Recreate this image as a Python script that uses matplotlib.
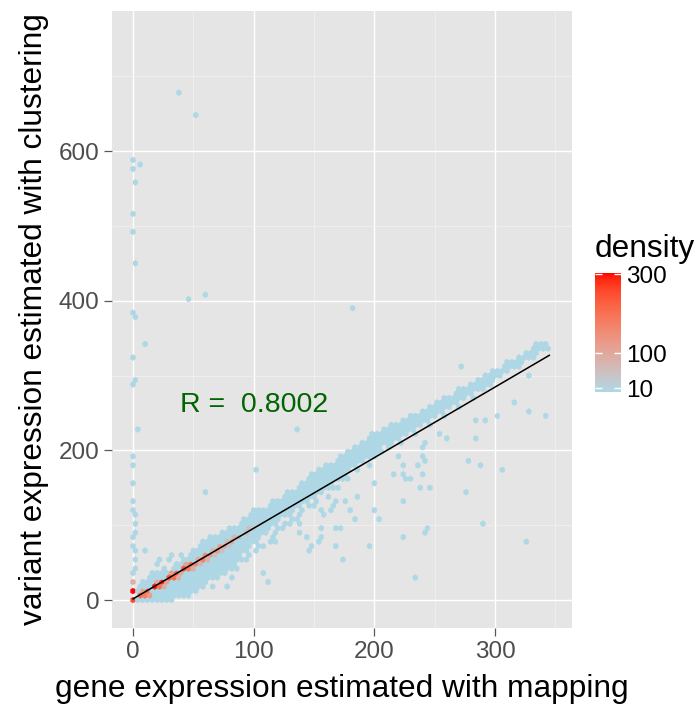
import numpy as np
import matplotlib
matplotlib.use("Agg")
import matplotlib.pyplot as plt
from matplotlib.colors import ListedColormap, Normalize

plt.rcParams['font.family'] = ['Liberation Sans', 'DejaVu Sans']

# vertical column of hexes at x ~ 0
col0_y = [0, 12, 24, 36, 42, 54, 66, 72, 84, 90, 102, 114, 120, 132, 156, 180, 192,
          288, 294, 324, 378, 384, 450, 492, 516, 558, 576, 588]

# main band: one entry per hex column (x) with the y cells it covers
band_x = list(range(4, 345, 4))
band_y = [
    [0, 6, 12, 18],
    [0, 6, 12, 18, 24],
    [0, 6, 12, 18, 24, 30],
    [0, 6, 12, 18, 24, 30, 36],
    [0, 6, 12, 18, 24, 30, 36, 48],
    [0, 6, 12, 18, 24, 30, 36, 42],
    [0, 6, 12, 18, 24, 30, 36, 54],
    [0, 6, 12, 18, 24, 30, 36, 42, 60],
    [6, 12, 18, 24, 30, 36, 42, 48],
    [6, 12, 18, 24, 30, 36, 42, 48, 54, 60],
    [6, 12, 18, 24, 30, 36, 42, 48, 54],
    [12, 18, 24, 30, 36, 42, 48, 54, 60, 66],
    [12, 18, 24, 30, 36, 42, 48, 54, 60, 66],
    [18, 24, 30, 36, 42, 48, 54, 60, 66, 72, 78],
    [24, 30, 36, 42, 48, 54, 60, 66, 72, 78],
    [18, 30, 36, 42, 48, 54, 60, 66, 72, 78, 84],
    [30, 36, 42, 48, 54, 60, 66, 72, 78, 84],
    [36, 42, 48, 54, 60, 66, 72, 78, 84, 90],
    [36, 42, 48, 54, 60, 66, 72, 78, 84, 90],
    [30, 42, 48, 54, 60, 66, 72, 78, 84, 90, 96],
    [42, 48, 54, 60, 66, 72, 78, 84, 90, 96],
    [54, 60, 66, 72, 78, 84, 90, 96, 102],
    [54, 66, 72, 78, 84, 90, 96, 102, 108],
    [60, 72, 78, 84, 90, 96, 102, 108, 114],
    [66, 78, 84, 90, 96, 102, 108, 114, 120],
    [72, 84, 90, 96, 102, 108, 114, 120],
    [72, 90, 96, 102, 108, 114, 120],
    [78, 96, 102, 108, 114, 120, 126],
    [84, 90, 102, 108, 114, 120, 126, 132],
    [96, 108, 114, 120, 126, 132],
    [96, 102, 114, 120, 126, 132, 138],
    [102, 114, 120, 126, 132, 138, 144],
    [108, 120, 126, 132, 138, 144],
    [108, 114, 126, 132, 138, 144, 150],
    [120, 132, 138, 144, 150, 156],
    [126, 132, 138, 144, 150, 156, 162],
    [126, 138, 144, 150, 156, 162, 168],
    [132, 144, 150, 156, 162, 168, 174],
    [144, 150, 156, 162, 168, 174],
    [138, 150, 156, 162, 168, 174, 180],
    [150, 156, 162, 168, 174, 180],
    [150, 162, 168, 174, 180, 186],
    [162, 168, 174, 180, 186, 192],
    [168, 174, 180, 186, 192],
    [162, 174, 180, 186, 192, 198],
    [180, 186, 192, 198, 204],
    [174, 186, 192, 198, 204],
    [186, 192, 198, 204, 210],
    [180, 192, 198, 204, 210, 216],
    [192, 198, 204, 210, 216, 222],
    [198, 204, 210, 216, 222],
    [198, 210, 216, 222, 228],
    [204, 210, 216, 222, 228],
    [210, 216, 222, 228, 234],
    [216, 222, 228, 234],
    [210, 222, 228, 234, 240],
    [222, 228, 234, 240],
    [228, 234, 240, 246],
    [222, 234, 240, 246],
    [234, 240, 246, 252],
    [240, 246, 252],
    [234, 246, 252, 258],
    [246, 252, 258, 264],
    [252, 258, 264],
    [246, 258, 264, 270],
    [258, 264, 270],
    [264, 270, 276],
    [258, 270, 276, 282],
    [270, 276, 282],
    [276, 282, 288],
    [270, 282, 288],
    [282, 288, 294],
    [282, 288, 294, 300],
    [288, 294, 300],
    [294, 300, 306],
    [300, 306],
    [306, 312],
    [306, 312, 318],
    [312, 318],
    [312, 318, 324],
    [318, 324],
    [324, 330],
    [324, 330, 336],
    [330, 336, 342],
    [336, 342],
    [336, 342],
]

# isolated hexes away from the band
scatter_x = [37, 51, 45, 60, 182, 136, 102, 58, 5, 8, 273, 328, 316, 327, 344, 301, 285,
             292, 285, 256, 261, 241, 243, 221, 225, 235, 241, 243, 218, 225, 227, 230,
             242, 237, 247, 278, 287, 307, 276, 290, 328, 225, 242, 244, 226, 235, 195,
             206, 200, 200, 185, 188, 177, 180, 168, 174, 168, 173, 157, 157, 152, 147,
             145, 143, 138, 138, 122, 164, 157, 169, 155, 163, 78, 108, 111, 117, 123,
             21, 32, 8, 4]
scatter_y = [675, 649, 403, 409, 390, 227, 175, 143, 227, 64, 312, 298, 266, 253, 246, 246, 240,
             240, 215, 220, 215, 203, 209, 195, 182, 182, 189, 189, 169, 169, 163, 163,
             169, 150, 150, 188, 182, 175, 143, 104, 78, 130, 91, 98, 85, 27, 72,
             110, 117, 156, 111, 136, 130, 117, 98, 98, 72, 52, 98, 85, 78, 71,
             66, 85, 91, 105, 98, 124, 117, 130, 122, 122, 20, 39, 27, 78, 98,
             53, 60, 342, 582]

# high-count cells near the origin and along the diagonal
dense_x = [0, 0, 4, 8, 12, 16, 20, 24, 28, 32, 36, 40, 44, 48, 52, 56, 60, 64, 68, 72,
           76, 80, 84, 88, 92, 96, 100, 104, 8, 12, 20, 24, 28, 32, 36, 40, 44, 48, 52,
           56, 60, 64, 68, 72, 76, 80, 0]
dense_y = [0, 12, 6, 6, 12, 18, 18, 24, 30, 30, 36, 42, 42, 48, 48, 54, 60, 60, 66, 72,
           72, 78, 84, 84, 90, 96, 96, 102, 12, 6, 24, 18, 24, 36, 30, 36, 48, 42, 54,
           48, 54, 66, 60, 66, 78, 72, 24]
dense_n = [250, 300, 200, 180, 200, 290, 200, 280, 230, 200, 220, 230, 180, 200, 160, 170,
           150, 130, 120, 110, 100, 90, 80, 70, 60, 50, 40, 30, 110, 120, 100, 90, 110, 120,
           90, 100, 110, 90, 100, 70, 80, 70, 60, 60, 50, 40, 80]

# fitted regression line
line_x = [0, 345]
line_y = [1.5, 327]

r_label = "R =  0.8002"


def lab_ramp(c1, c2, n=256):
    # interpolate two colours in CIE Lab, like ggplot's gradient scale
    M = np.array([[0.4124, 0.3576, 0.1805], [0.2126, 0.7152, 0.0722], [0.0193, 0.1192, 0.9505]])
    white = np.array([0.95047, 1.0, 1.08883])

    def to_lab(rgb):
        c = np.asarray(rgb, float) / 255
        lin = np.where(c <= 0.04045, c / 12.92, ((c + 0.055) / 1.055) ** 2.4)
        xyz = M @ lin / white
        f = np.where(xyz > 0.008856, np.cbrt(xyz), 7.787 * xyz + 16 / 116)
        return np.array([116 * f[1] - 16, 500 * (f[0] - f[1]), 200 * (f[1] - f[2])])

    def to_rgb(lab):
        fy = (lab[0] + 16) / 116
        f = np.array([fy + lab[1] / 500, fy, fy - lab[2] / 200])
        xyz = np.where(f ** 3 > 0.008856, f ** 3, (f - 16 / 116) / 7.787) * white
        lin = np.linalg.solve(M, xyz)
        c = np.where(lin <= 0.0031308, 12.92 * lin, 1.055 * np.abs(lin) ** (1 / 2.4) - 0.055)
        return np.clip(c, 0, 1)

    a, b = to_lab(c1), to_lab(c2)
    return ListedColormap([to_rgb(a + t * (b - a)) for t in np.linspace(0, 1, n)])


cmap = lab_ramp((173, 216, 230), (255, 0, 0))

# assemble the points for hexbin
xs, ys, cs = [], [], []
for y in col0_y:
    xs.append(0); ys.append(y); cs.append(3)
for x, col in zip(band_x, band_y):
    for y in col:
        xs.append(x); ys.append(y); cs.append(3)
for x, y in zip(scatter_x, scatter_y):
    xs.append(x); ys.append(y); cs.append(1)
for x, y, n in zip(dense_x, dense_y, dense_n):
    xs.append(x); ys.append(y); cs.append(n)

fig = plt.figure(figsize=(6.96, 7.04), dpi=100)
ax = fig.add_axes([112 / 696, 1 - 628 / 704, 460 / 696, 617 / 704])
ax.set_facecolor('#E5E5E5')

hb = ax.hexbin(xs, ys, C=cs, reduce_C_function=np.sum, gridsize=(86, 58),
               extent=(0, 344, 0, 696), mincnt=1, cmap=cmap,
               norm=Normalize(vmin=1, vmax=302), linewidths=0.3, edgecolors='face', zorder=2)

ax.plot(line_x, line_y, color='black', lw=1.1, zorder=3)
ax.text(100, 260, r_label, color='#006400', fontsize=20.5, ha='center', va='center', zorder=4)

ax.set_xlim(-17.4, 363.8)
ax.set_ylim(-37.4, 787.1)
ax.set_xticks([0, 100, 200, 300])
ax.set_yticks([0, 200, 400, 600])
ax.set_xticks([50, 150, 250, 350], minor=True)
ax.set_yticks([100, 300, 500, 700], minor=True)
ax.grid(which='major', color='white', lw=1.0, zorder=0)
ax.grid(which='minor', color='#F2F2F2', lw=0.5, zorder=0)
ax.set_axisbelow(True)
for s in ax.spines.values():
    s.set_visible(False)
ax.tick_params(which='major', length=6, width=0.9, color='#595959', labelsize=17.5,
               labelcolor='#4D4D4D', pad=3)
ax.tick_params(which='minor', length=0)

ax.set_xlabel("gene expression estimated with mapping", fontsize=22.8, labelpad=8)
ax.set_ylabel("variant expression estimated with clustering", fontsize=22.8, labelpad=7)

cax = fig.add_axes([595 / 696, 1 - 392 / 704, 26 / 696, 118.5 / 704])
cb = fig.colorbar(hb, cax=cax, ticks=[10, 100, 300])
cb.outline.set_visible(False)
cax.tick_params(which='both', direction='in', color='white', length=5, width=1,
                left=True, right=True, labelsize=17.5, pad=4)
cax.minorticks_off()
fig.text(595 / 696, 1 - 257 / 704, "density", fontsize=22.8, ha='left', va='baseline')

fig.savefig("out.png", dpi=100)
